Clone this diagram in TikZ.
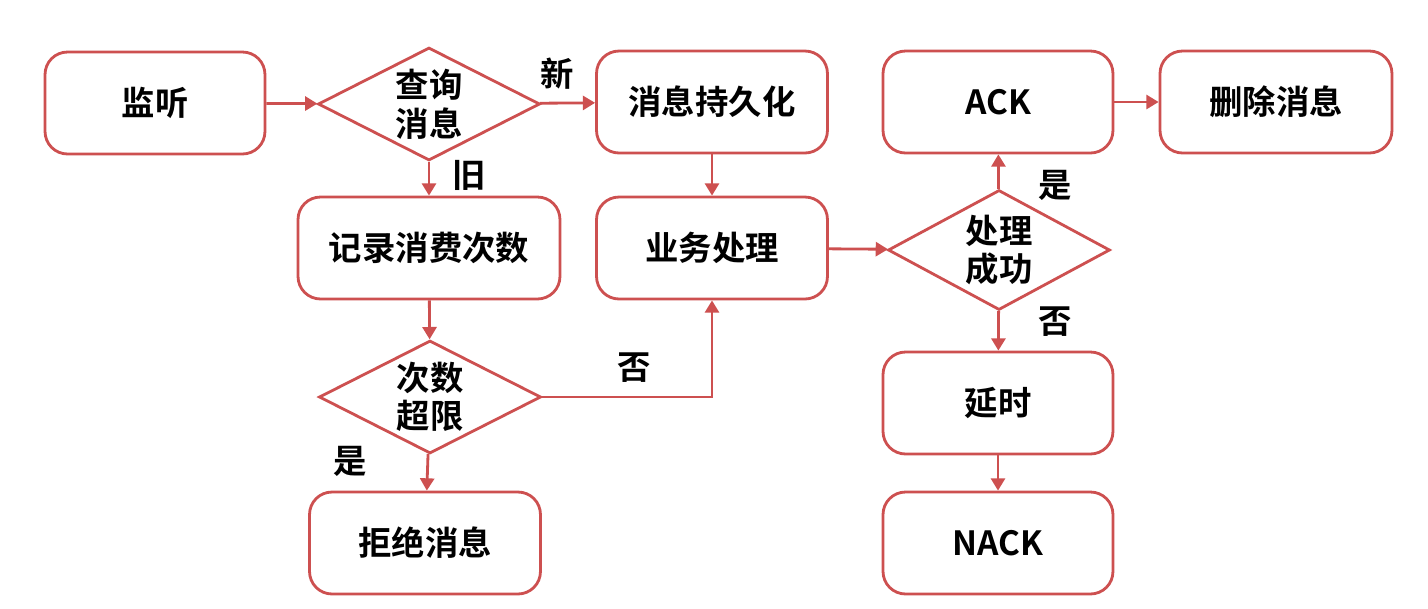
\documentclass[tikz,border=0pt]{standalone}
\usepackage{fontspec}
\setmainfont{Noto Sans CJK SC Bold}
\usetikzlibrary{shapes.geometric,arrows.meta}
\definecolor{edge}{RGB}{205,80,80}
\begin{document}
\begin{tikzpicture}[x=0.02cm, y=-0.02cm,
    box/.style={rectangle, rounded corners=0.45cm, draw=edge, line width=1.6pt, fill=white, minimum width=4.5cm, minimum height=2.04cm, font=\fontsize{19}{22}\selectfont},
    dia/.style={diamond, draw=edge, line width=1.6pt, fill=white, minimum width=4.44cm, minimum height=2.26cm, inner sep=-1cm, align=center, font=\fontsize{19}{22}\selectfont},
    lab/.style={font=\fontsize{19}{22}\selectfont, anchor=center}]
    \useasboundingbox (0,0) rectangle (1428,609);

    \begin{scope}
      \node [box, minimum width=4.4cm] (listen) at (155,103) {监听};
      \node [dia] (query) at (429,104) {查询\\消息};
      \node [box, minimum width=4.62cm] (persist) at (712,102) {消息持久化};
      \node [box, minimum width=4.6cm] (ack) at (998,102) {ACK};
      \node [box, minimum width=4.64cm] (delete) at (1276,102) {删除消息};
      \node [box, minimum width=5.24cm] (record) at (429,248) {记录消费次数};
      \node [box, minimum width=4.62cm] (work) at (712,248) {业务处理};
      \node [dia, minimum height=2.4cm] (ok) at (999,250) {处理\\成功};
      \node [dia] (limit) at (430,397) {次数\\超限};
      \node [box, minimum width=4.6cm] (delay) at (998,403) {延时};
      \node [box, minimum width=4.62cm] (reject) at (425,543) {拒绝消息};
      \node [box, minimum width=4.6cm] (nack) at (998,543) {NACK};
    \end{scope}

    \begin{scope}[-{Triangle[length=7pt,width=8pt]}, draw=edge, line width=1.6pt]
      \draw (listen) -- (query);
      \draw (query) -- node [lab, xshift=-6pt, yshift=17pt] {新} (persist);
      \draw (query) -- node [lab, xshift=23pt, yshift=2pt] {旧} (record);
      \draw (persist) -- (work);
      \draw (record) -- (limit);
      \draw (limit) -| node [lab, pos=0.27, yshift=17pt] {否} (work);
      \draw (limit) -- node [lab, xshift=-44pt, yshift=6pt] {是} (reject);
      \draw (work) -- (ok);
      \draw (ok) -- node [lab, xshift=32pt, yshift=-8pt] {是} (ack);
      \draw (ack) -- (delete);
      \draw (ok) -- node [lab, xshift=32pt, yshift=5pt] {否} (delay);
      \draw (delay) -- (nack);
    \end{scope}
\end{tikzpicture}
\end{document}
